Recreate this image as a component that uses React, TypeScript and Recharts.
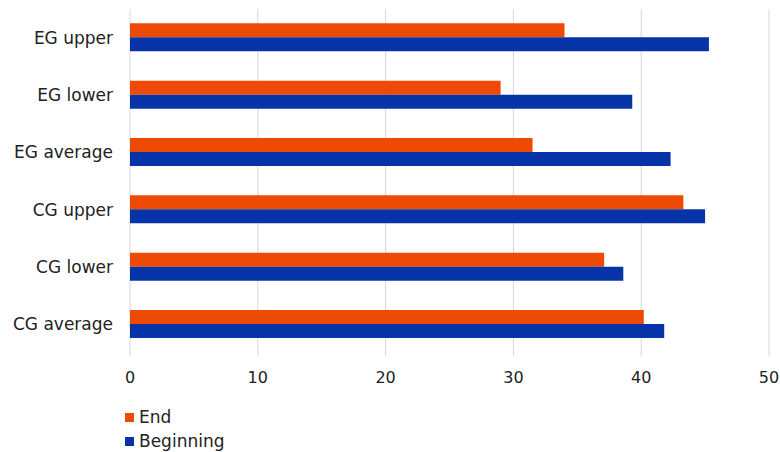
import { BarChart, Bar, XAxis, YAxis, CartesianGrid, Legend } from 'recharts';

const CATEGORIES = ['EG upper', 'EG lower', 'EG average', 'CG upper', 'CG lower', 'CG average'];
const END_VALUES = [34.0, 29.0, 31.5, 43.3, 37.1, 40.2];
const BEGINNING_VALUES = [45.3, 39.3, 42.3, 45.0, 38.6, 41.8];
const X_TICKS = [0, 10, 20, 30, 40, 50];

const SERIES = [
  { key: 'end', label: 'End', color: '#ef4a04' },
  { key: 'beginning', label: 'Beginning', color: '#0634a8' },
];

const FONT = '"DejaVu Sans", Verdana, sans-serif';

const data = CATEGORIES.map((name, i) => ({
  name,
  end: END_VALUES[i],
  beginning: BEGINNING_VALUES[i],
}));

function LegendBox() {
  return (
    <div style={{ height: 50, paddingTop: 3, boxSizing: 'border-box', fontFamily: FONT, fontSize: 17, color: '#222' }}>
      {SERIES.map((s) => (
        <div key={s.key} style={{ display: 'flex', alignItems: 'center', height: 24, lineHeight: '24px' }}>
          <span style={{ display: 'inline-block', width: 9, height: 9, background: s.color, marginRight: 5 }} />
          <span>{s.label}</span>
        </div>
      ))}
    </div>
  );
}

export default function App() {
  return (
    <div style={{ position: 'absolute', left: 0, top: 0, width: 780, height: 452, background: '#fff' }}>
      <BarChart
        width={780}
        height={452}
        data={data}
        layout="vertical"
        margin={{ top: 9, right: 11, bottom: 0, left: 0 }}
        barCategoryGap="25%"
        barGap={0}
      >
        <CartesianGrid horizontal={false} stroke="#d6d6d6" />
        <XAxis
          type="number"
          domain={[0, 50]}
          ticks={X_TICKS}
          height={49}
          axisLine={false}
          tickLine={{ stroke: '#d6d6d6' }}
          tickSize={3}
          tickMargin={16}
          tick={{ fill: '#222', fontSize: 16, fontFamily: FONT }}
        />
        <YAxis
          type="category"
          dataKey="name"
          width={130}
          axisLine={false}
          tickLine={false}
          tickSize={0}
          tickMargin={17}
          tick={{ fill: '#222', fontSize: 17, fontFamily: FONT }}
        />
        <Legend
          layout="horizontal"
          verticalAlign="bottom"
          align="left"
          content={() => <LegendBox />}
          wrapperStyle={{ left: 125 }}
        />
        {SERIES.map((s) => (
          <Bar key={s.key} dataKey={s.key} name={s.label} fill={s.color} isAnimationActive={false} />
        ))}
      </BarChart>
    </div>
  );
}
